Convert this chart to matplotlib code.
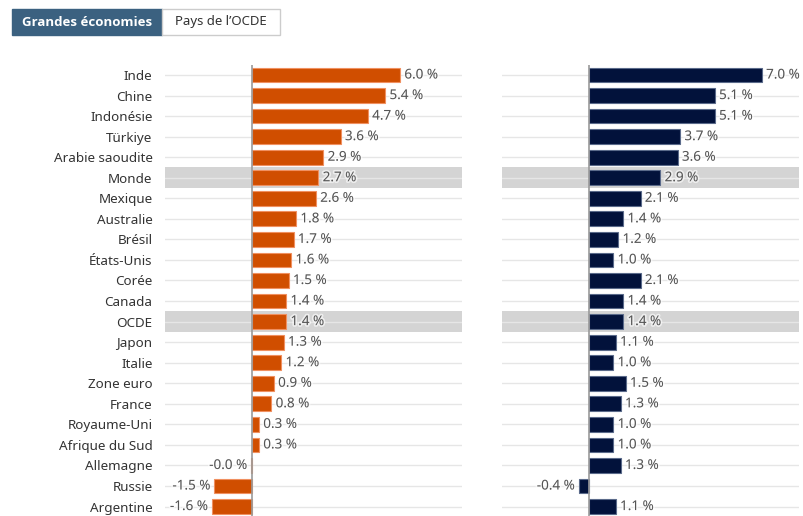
import matplotlib
matplotlib.use("Agg")
import matplotlib.pyplot as plt
from matplotlib.patches import Rectangle
import matplotlib.patheffects as pe

plt.rcParams['font.family'] = ['Noto Sans', 'DejaVu Sans']

categories = ["Inde", "Chine", "Indonésie", "Türkiye", "Arabie saoudite", "Monde",
              "Mexique", "Australie", "Brésil", "États-Unis", "Corée", "Canada",
              "OCDE", "Japon", "Italie", "Zone euro", "France", "Royaume-Uni",
              "Afrique du Sud", "Allemagne", "Russie", "Argentine"]
left_values = [6.0, 5.4, 4.7, 3.6, 2.9, 2.7, 2.6, 1.8, 1.7, 1.6, 1.5, 1.4,
               1.4, 1.3, 1.2, 0.9, 0.8, 0.3, 0.3, -0.02, -1.5, -1.6]
right_values = [7.0, 5.1, 5.1, 3.7, 3.6, 2.9, 2.1, 1.4, 1.2, 1.0, 2.1, 1.4,
                1.4, 1.1, 1.0, 1.5, 1.3, 1.0, 1.0, 1.3, -0.4, 1.1]
highlight = ["Monde", "OCDE"]
buttons = ["Grandes économies", "Pays de l’OCDE"]

W, H = 804, 516
fig = plt.figure(figsize=(W / 100, H / 100), dpi=100)

def fx(px):
    return px / W

def fy(py):
    return 1 - py / H

row_h = 20.55
top_px = 75 - row_h / 2
bot_px = top_px + row_h * len(categories)
xmin, xmax = -3.5, 8.5

def make_panel(x0, x1, values, color, edge, show_labels):
    ax = fig.add_axes([fx(x0), fy(bot_px), fx(x1) - fx(x0), fy(top_px) - fy(bot_px)])
    n = len(categories)
    ys = list(range(n))
    ax.set_xlim(xmin, xmax)
    ax.set_ylim(n - 0.5, -0.5)
    for i, c in enumerate(categories):
        if c in highlight:
            ax.axhspan(i - 0.5, i + 0.5, color="#d4d4d4", zorder=0, lw=0)
        ax.axhline(i, color="#e6e6e6", lw=1, zorder=0.5)
    ax.barh(ys, values, height=0.72, color=color, edgecolor=edge, linewidth=0.8, zorder=2)
    ax.axvline(0, color="#9a9a9a", lw=1.2, zorder=3)
    for i, v in enumerate(values):
        lab = f"{v:.1f} %"
        off = 0.17
        if v >= 0:
            t = ax.text(v + off, i, lab, ha="left", va="center", fontsize=9.7, color="#555555", zorder=4)
        else:
            t = ax.text(v - off, i, lab, ha="right", va="center", fontsize=9.7, color="#555555", zorder=4)
        t.set_path_effects([pe.withStroke(linewidth=2.5, foreground="white", alpha=0.6)])
    ax.set_yticks(ys)
    if show_labels:
        ax.set_yticklabels(categories, fontsize=9.7, color="#333333")
    else:
        ax.set_yticklabels([])
    ax.tick_params(axis="y", length=0, pad=9)
    ax.set_xticks([])
    for s in ax.spines.values():
        s.set_visible(False)
    ax.patch.set_alpha(0)
    return ax

make_panel(165, 462, left_values, "#d04e00", "#f09060", True)
make_panel(502, 799, right_values, "#02123b", "#5a6a8a", False)

# Buttons
b1 = Rectangle((fx(12), fy(35)), fx(162) - fx(12), fy(9) - fy(35),
               transform=fig.transFigure, facecolor="#3b6180", edgecolor="#3b6180", lw=1)
b2 = Rectangle((fx(162), fy(35)), fx(280) - fx(162), fy(9) - fy(35),
               transform=fig.transFigure, facecolor="white", edgecolor="#cccccc", lw=1)
fig.add_artist(b1)
fig.add_artist(b2)
fig.text(fx(87), fy(22), buttons[0], ha="center", va="center", fontsize=9.5,
         fontweight="bold", family=["Open Sans", "DejaVu Sans"], color="white")
fig.text(fx(221), fy(22), buttons[1], ha="center", va="center", fontsize=9.5,
         color="#333333")

fig.savefig("out.png", dpi=100, facecolor="white")
